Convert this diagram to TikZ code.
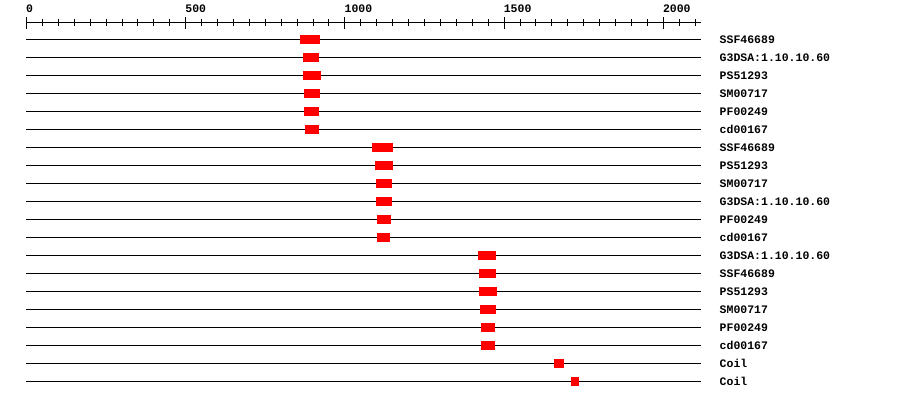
\documentclass[tikz,border=0pt]{standalone}
\usepackage{fontspec}
\setmonofont{Liberation Mono}
\begin{document}
\begin{tikzpicture}[x=1pt,y=-1pt,
  track/.style={black, line width=1pt},
  axisline/.style={black, line width=1pt},
  dom/.style={fill=red, draw=none},
  lab/.style={font=\ttfamily\bfseries\fontsize{11.5}{12}\selectfont, anchor=base west, inner sep=0pt}]
\useasboundingbox (0,0) rectangle (900,400);
% axis
\draw[axisline] (26.5,22.5) coordinate (axl) -- (701,22.5) coordinate (axr);
\foreach \v in {0,50,...,2100}{
  \draw[axisline] ({26.5+0.3184*\v},19) -- ({26.5+0.3184*\v},25.5);
}
\foreach \v in {0,500,1000,1500,2000}{
  \draw[axisline] ({26.5+0.3184*\v},17) -- ({26.5+0.3184*\v},29);
  \node[lab] (ax\v) at ({26.5+0.3184*\v-0.5},12) {\v};
}
% tracks
\foreach \lab/\a/\b [count=\i from 0] in {
  SSF46689/300/320,
  G3DSA:1.10.10.60/303/319,
  PS51293/303/321,
  SM00717/304/320,
  PF00249/304/319,
  cd00167/305/319,
  SSF46689/372/393,
  PS51293/375/393,
  SM00717/376/392,
  G3DSA:1.10.10.60/376/392,
  PF00249/377/391,
  cd00167/377/390,
  G3DSA:1.10.10.60/478/496,
  SSF46689/479/496,
  PS51293/479/497,
  SM00717/480/496,
  PF00249/481/495,
  cd00167/481/495,
  Coil/554/564,
  Coil/571/579}{
  \pgfmathsetmacro{\yy}{39.5+18*\i}
  \draw[track] (26,\yy) coordinate (l\i) -- (701,\yy) coordinate (r\i);
  \fill[dom] (\a,\yy-4.5) rectangle (\b,\yy+4.5);
  \node[lab] (t\i) at (719.5,\yy+4) {\lab};
}
\end{tikzpicture}
\end{document}
